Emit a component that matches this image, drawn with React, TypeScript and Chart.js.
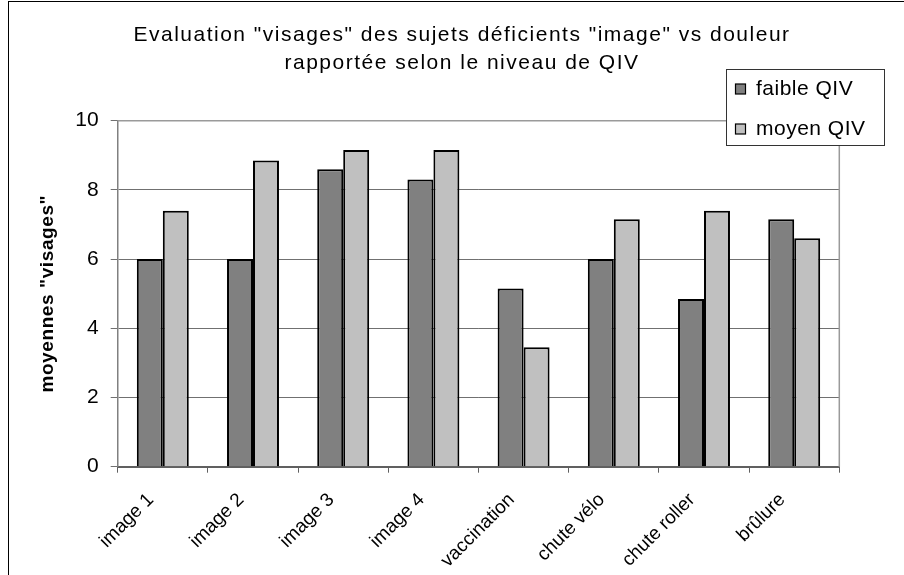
import React, { useEffect, useRef } from 'react';
import { Chart, registerables } from 'chart.js';

Chart.register(...registerables);

const categories = ['image 1', 'image 2', 'image 3', 'image 4', 'vaccination', 'chute vélo', 'chute roller', 'brûlure'];
const faibleQIV = [6.0, 6.0, 8.6, 8.3, 5.15, 6.0, 4.85, 7.15];
const moyenQIV = [7.4, 8.85, 9.15, 9.15, 3.45, 7.15, 7.4, 6.6];
const seriesNames = ['faible QIV', 'moyen QIV'];
const seriesColors = ['#808080', '#c0c0c0'];
const titleLines = ['Evaluation "visages" des sujets déficients "image" vs douleur', 'rapportée selon le niveau de QIV'];
const yAxisTitle = 'moyennes "visages"';
const yMin = 0;
const yMax = 10;
const yStep = 2;

const FONT = '"Liberation Sans", Arial, Helvetica, sans-serif';

const decor = {
  id: 'decor',
  beforeDraw(chart: any) {
    const ctx = chart.ctx;
    ctx.save();
    ctx.fillStyle = '#ffffff';
    ctx.fillRect(0, 0, chart.width, chart.height);
    ctx.restore();
  },
  afterDraw(chart: any) {
    const ctx = chart.ctx;
    const { left, top, right, bottom } = chart.chartArea;
    ctx.save();
    // plot area top & right border
    ctx.strokeStyle = '#9a9a9a';
    ctx.lineWidth = 1.5;
    ctx.beginPath();
    ctx.moveTo(left, top);
    ctx.lineTo(right, top);
    ctx.lineTo(right, bottom);
    ctx.stroke();
    // outer chart border (cropped)
    ctx.strokeStyle = '#000000';
    ctx.lineWidth = 1;
    ctx.strokeRect(8.5, 1.5, 2000, 2000);
    // title
    ctx.fillStyle = '#000000';
    ctx.font = `21px ${FONT}`;
    (ctx as any).letterSpacing = '1.5px';
    ctx.textAlign = 'center';
    ctx.textBaseline = 'alphabetic';
    titleLines.forEach((t, i) => ctx.fillText(t, 462, 41 + i * 28));
    // y axis title
    ctx.save();
    ctx.translate(48, (top + bottom) / 2);
    ctx.rotate(-Math.PI / 2);
    ctx.font = `bold 19px ${FONT}`;
    (ctx as any).letterSpacing = '0.6px';
    ctx.textAlign = 'center';
    ctx.textBaseline = 'middle';
    ctx.fillText(yAxisTitle, 0, 0);
    ctx.restore();
    // legend
    (ctx as any).letterSpacing = '0.5px';
    ctx.fillStyle = '#ffffff';
    ctx.fillRect(726.5, 69.5, 158, 76);
    ctx.strokeStyle = '#333333';
    ctx.lineWidth = 1;
    ctx.strokeRect(726.5, 69.5, 158, 76);
    ctx.font = `21px ${FONT}`;
    ctx.textAlign = 'left';
    ctx.textBaseline = 'middle';
    chart.data.datasets.forEach((ds: any, i: number) => {
      const cy = 89 + i * 40;
      ctx.fillStyle = ds.backgroundColor;
      ctx.fillRect(735.5, cy - 5, 10, 10);
      ctx.strokeStyle = '#000000';
      ctx.lineWidth = 1.2;
      ctx.strokeRect(735.5, cy - 5, 10, 10);
      ctx.fillStyle = '#000000';
      ctx.fillText(ds.label, 756, cy);
    });
    ctx.restore();
  },
};

export default function App() {
  const ref = useRef<HTMLCanvasElement>(null);
  useEffect(() => {
    if (!ref.current) return;
    const chart = new Chart(ref.current, {
      type: 'bar',
      data: {
        labels: categories,
        datasets: [
          {
            label: seriesNames[0],
            data: faibleQIV,
            backgroundColor: seriesColors[0],
            borderColor: '#000000',
            borderWidth: 2,
          },
          {
            label: seriesNames[1],
            data: moyenQIV,
            backgroundColor: seriesColors[1],
            borderColor: '#000000',
            borderWidth: 2,
          },
        ],
      },
      options: {
        responsive: false,
        animation: false,
        events: [],
        layout: { padding: { top: 120.7, right: 64.7, left: 0, bottom: 0 } },
        datasets: { bar: { categoryPercentage: 0.576, barPercentage: 1 } },
        plugins: {
          legend: { display: false },
          title: { display: false },
          tooltip: { enabled: false },
        },
        scales: {
          x: {
            afterFit: (s: any) => { s.height = 108.3; },
            grid: { offset: true, drawOnChartArea: false, drawTicks: true, tickLength: 6, color: '#606060' },
            border: { display: true, color: '#606060', width: 2 },
            ticks: { font: { family: FONT, size: 19 }, color: '#000000', maxRotation: 45, minRotation: 45, padding: 16, labelOffset: -12 },
          },
          y: {
            min: yMin,
            max: yMax,
            afterFit: (s: any) => { s.width = 117.7; },
            grid: { color: '#707070', lineWidth: 1, tickLength: 7, drawTicks: true },
            border: { display: true, color: '#808080', width: 1.5 },
            ticks: { stepSize: yStep, font: { family: FONT, size: 21 }, color: '#000000', padding: 12 },
          },
        },
      },
      plugins: [decor],
    });
    return () => chart.destroy();
  }, []);
  return (
    <div style={{ position: 'fixed', left: 0, top: 0, width: 904, height: 575 }}>
      <canvas ref={ref} width={904} height={575} style={{ width: 904, height: 575, display: 'block' }} />
    </div>
  );
}
